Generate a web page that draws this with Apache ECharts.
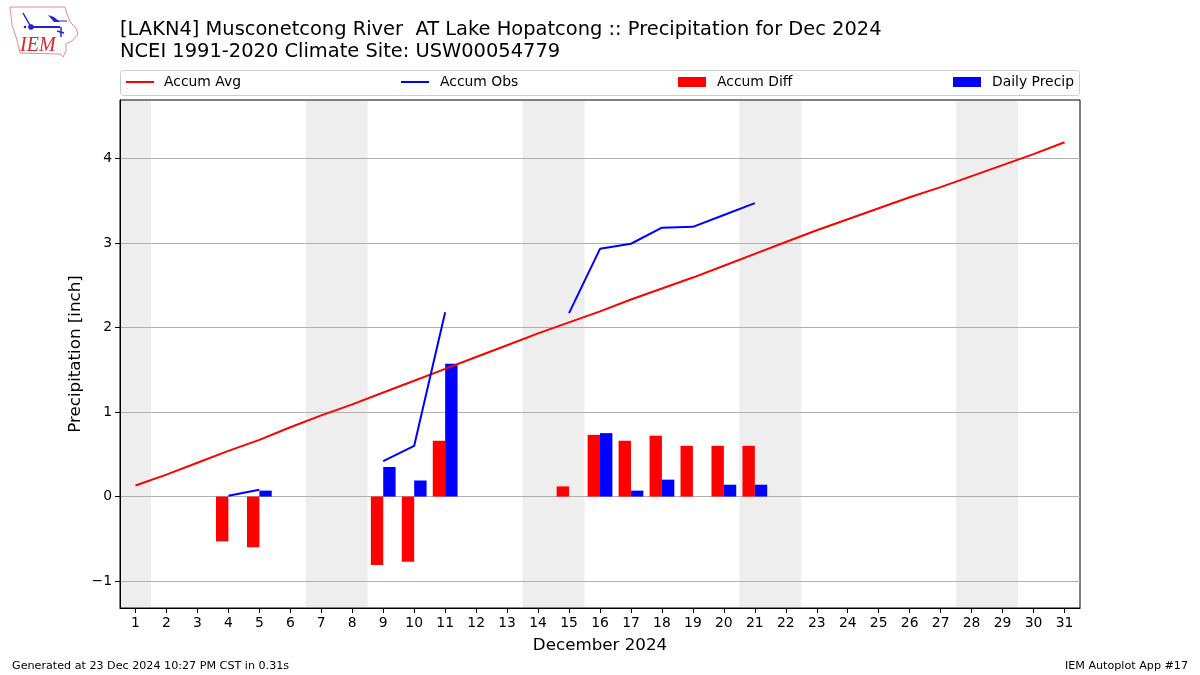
<!DOCTYPE html>
<html><head><meta charset="utf-8">
<style>html,body{margin:0;padding:0;background:#fff}#c{width:1200px;height:675px}</style>
<script src="https://cdn.jsdelivr.net/npm/echarts@6/dist/echarts.min.js"></script>
</head><body><div id="c"></div>
<script>
const days = ['1','2','3','4','5','6','7','8','9','10','11','12','13','14','15','16','17','18','19','20','21','22','23','24','25','26','27','28','29','30','31'];
const yTicks = [-1,0,1,2,3,4];
const accumAvg = [0.13,0.26,0.40,0.54,0.67,0.82,0.96,1.09,1.23,1.37,1.51,1.65,1.79,1.93,2.06,2.19,2.33,2.46,2.59,2.73,2.87,3.01,3.15,3.28,3.41,3.54,3.66,3.79,3.92,4.05,4.19];
const accumObs = [null,null,null,0.01,0.08,null,null,null,0.42,0.60,2.18,null,null,null,2.17,2.93,2.99,3.18,3.19,3.33,3.47,null,null,null,null,null,null,null,null,null,null];
const accumDiff = [null,null,null,-0.53,-0.60,null,null,null,-0.81,-0.77,0.66,null,null,null,0.12,0.73,0.66,0.72,0.60,0.60,0.60,null,null,null,null,null,null,null,null,null,null];
const dailyPrecip = [null,null,null,null,0.07,null,null,null,0.35,0.19,1.57,null,null,null,null,0.75,0.07,0.20,0,0.14,0.14,null,null,null,null,null,null,null,null,null,null];
const weekendSpans = [[0.5,1.5],[6.5,8.5],[13.5,15.5],[20.5,22.5],[27.5,29.5]];
const titleText = '[LAKN4] Musconetcong River  AT Lake Hopatcong :: Precipitation for Dec 2024\nNCEI 1991-2020 Climate Site: USW00054779';
const FONT = 'DejaVu Sans';
const yMin = -1.318, yMax = 4.69;

const legendAt = (name, left, h, gap) => ({
  data:[{name,icon:'rect'}], left, top:75, itemWidth:28, itemHeight:h, selectedMode:false, padding:0,
  textStyle:{fontFamily:FONT,fontSize:13.9,color:'#000',padding:[0,0,0,gap]}
});
const blue='#2020d8';
const chart = echarts.init(document.getElementById('c'),null,{renderer:'canvas'});
chart.setOption({
  animation:false,
  backgroundColor:'#fff',
  title:{text:titleText,left:120,top:19,padding:0,textStyle:{fontFamily:FONT,fontSize:19.45,fontWeight:'normal',color:'#000',lineHeight:22}},
  legend:[legendAt('Accum Avg',126,2,5),legendAt('Accum Obs',401,2,6),legendAt('Accum Diff',678,10,6),legendAt('Daily Precip',953,10,6)],
  grid:{left:120,right:120,top:100,bottom:67,show:true,borderColor:'#000',borderWidth:1,backgroundColor:'#fff'},
  xAxis:[
    {type:'category',data:days,position:'bottom',z:3,
     name:'December 2024',nameLocation:'middle',nameGap:29,nameTextStyle:{fontFamily:FONT,fontSize:16.7,color:'#000'},
     axisLine:{show:true,onZero:false,lineStyle:{color:'#000',width:1}},
     axisTick:{show:true,alignWithLabel:true,length:5,lineStyle:{color:'#000',width:1}},
     axisLabel:{interval:0,fontFamily:FONT,fontSize:13.9,color:'#000',margin:8},
     splitLine:{show:false}},
    {type:'value',min:0.5,max:31.5,show:false,splitLine:{show:false}}
  ],
  yAxis:{type:'value',min:yMin,max:yMax,z:1.5,
     name:'Precipitation [inch]',nameLocation:'middle',nameGap:36,nameMoveOverlap:false,nameTextStyle:{fontFamily:FONT,fontSize:16.7,color:'#000'},
     axisLine:{show:true,onZero:false,lineStyle:{color:'#000',width:1}},
     axisTick:{show:true,length:5,customValues:yTicks,lineStyle:{color:'#000',width:1}},
     axisLabel:{fontFamily:FONT,fontSize:13.9,color:'#000',margin:8,customValues:yTicks,
       formatter:v=>(v<0?'\u2212'+(-v):String(v))},
     splitLine:{show:true,lineStyle:{color:'#b0b0b0',width:1}}},
  series:[
    {name:'weekends',type:'line',xAxisIndex:1,data:[],silent:true,
     markArea:{silent:true,z:1,itemStyle:{color:'#eeeeee'},
       data:weekendSpans.map(s=>[{xAxis:Math.max(s[0],0.53),yAxis:yMin+0.012},{xAxis:s[1],yAxis:yMax-0.012}])}},
    {name:'Accum Diff',type:'bar',data:accumDiff,barWidth:'40%',barGap:0,z:2,itemStyle:{color:'#ff0000'}},
    {name:'Daily Precip',type:'bar',data:dailyPrecip,barWidth:'40%',barGap:0,z:2,itemStyle:{color:'#0000ff'}},
    {name:'Accum Avg',type:'line',data:accumAvg,showSymbol:false,symbol:'none',z:3,lineStyle:{color:'#ff0000',width:2},itemStyle:{color:'#ff0000'}},
    {name:'Accum Obs',type:'line',data:accumObs,showSymbol:false,symbol:'none',connectNulls:false,z:3,lineStyle:{color:'#0000ff',width:2},itemStyle:{color:'#0000ff'}}
  ],
  graphic:[
    {type:'rect',silent:true,z:0,shape:{x:120.5,y:70.5,width:959,height:25,r:3},style:{fill:'#fff',stroke:'#cccccc',lineWidth:1}},
    {type:'text',left:12,top:661,style:{text:'Generated at 23 Dec 2024 10:27 PM CST in 0.31s',fontFamily:FONT,fontSize:11.15,fill:'#000'}},
    {type:'text',right:12,top:661,style:{text:'IEM Autoplot App #17',fontFamily:FONT,fontSize:11.15,fill:'#000'}},
    {type:'polygon',silent:true,shape:{points:[[10,7],[65,7],[67,14],[70,22],[76,28],[78,34],[72,41],[66,44],[66,51],[63,57],[60,54],[20,53],[17,40],[12,25]]},style:{fill:'none',stroke:'#e08f8f',lineWidth:1}},
    {type:'line',silent:true,shape:{x1:31,y1:27,x2:60,y2:27},style:{stroke:blue,lineWidth:2}},
    {type:'line',silent:true,shape:{x1:23,y1:13,x2:31,y2:27},style:{stroke:blue,lineWidth:1.5}},
    {type:'circle',silent:true,shape:{cx:31,cy:27,r:2.8},style:{fill:blue}},
    {type:'polygon',silent:true,shape:{points:[[48,15],[54,17],[60,22],[54,22]]},style:{fill:blue}},
    {type:'line',silent:true,shape:{x1:56,y1:21,x2:67,y2:21},style:{stroke:blue,lineWidth:1}},
    {type:'line',silent:true,shape:{x1:61,y1:27,x2:61,y2:37},style:{stroke:blue,lineWidth:1.5}},
    {type:'line',silent:true,shape:{x1:57,y1:31,x2:64,y2:33},style:{stroke:blue,lineWidth:1.5}},
    {type:'circle',silent:true,shape:{cx:25,cy:27,r:1.3},style:{fill:blue}},
    {type:'text',silent:true,left:20,top:36,style:{text:'IEM',fontFamily:'Liberation Serif',fontStyle:'italic',fontSize:20,fill:'#d8262c'}}
  ]
});
</script></body></html>
